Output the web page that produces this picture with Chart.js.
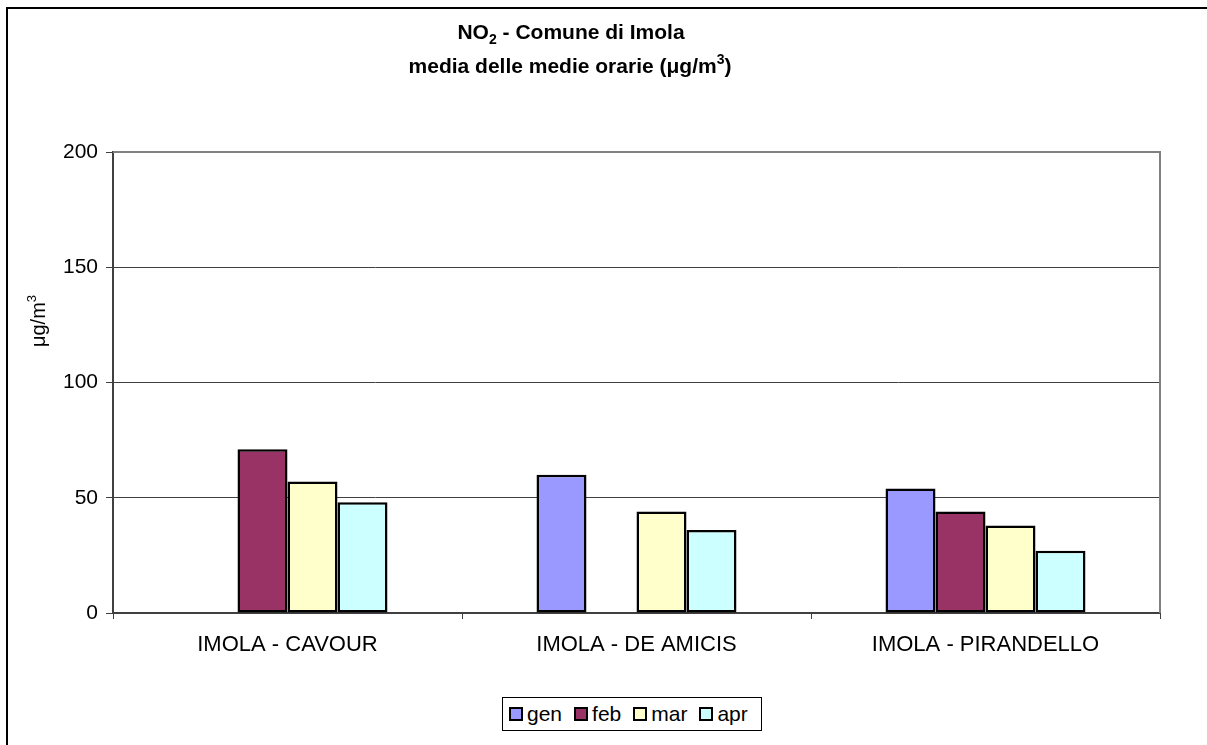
<!DOCTYPE html>
<html>
<head>
<meta charset="utf-8">
<script src="https://cdn.jsdelivr.net/npm/chart.js@4/dist/chart.umd.min.js"></script>
<style>
  body { margin: 0; background: #fff; font-family: "Liberation Sans", Arial, sans-serif; }
  #wrap { position: relative; width: 1207px; height: 745px; overflow: hidden; }
  #frame { position: absolute; left: 6px; top: 7px; width: 1300px; height: 800px; border-left: 2px solid #000; border-top: 2px solid #000; }
  #no2 { position: absolute; left: 0; top: 0; }
  #legend { position: absolute; left: 502px; top: 697px; width: 252px; height: 32px; border: 1px solid #000; background: #fff;
            display: flex; align-items: center; justify-content: flex-start; padding-left: 6px; box-sizing: content-box;
            font-size: 21px; color: #000; }
  #legend span.item { display: flex; align-items: center; margin-right: 12px; }
  #legend span.box { display: inline-block; width: 10px; height: 10px; border: 2px solid #000; margin-right: 4px; }
</style>
</head>
<body>
<div id="wrap">
  <div id="frame"></div>
  <canvas id="no2" width="1207" height="745"></canvas>
  <div id="legend"></div>
</div>
<script>
var stations = ["IMOLA - CAVOUR", "IMOLA - DE AMICIS", "IMOLA - PIRANDELLO"];
var gen = [null, 60, 54];
var feb = [71, null, 44];
var mar = [57, 44, 38];
var apr = [48, 36, 27];
var yTicks = [0, 50, 100, 150, 200];

var FONT = "'Liberation Sans', Arial, sans-serif";

function series(label, values, color) {
    return {
        label: label,
        data: values,
        backgroundColor: color,
        borderColor: "#000",
        borderWidth: 2.5,
        borderSkipped: false,
        barPercentage: 1,
        categoryPercentage: 0.573
    };
}

// title with sub/superscripts, y title, gray plot border
var decorations = {
    id: "decorations",
    afterDraw: function(chart) {
        var ctx = chart.ctx;
        var a = chart.chartArea;
        ctx.save();

        ctx.strokeStyle = "#808080";
        ctx.lineWidth = 2;
        ctx.beginPath();
        ctx.moveTo(a.left, a.top);
        ctx.lineTo(a.right, a.top);
        ctx.lineTo(a.right, a.bottom);
        ctx.stroke();

        ctx.fillStyle = "#000";
        ctx.textBaseline = "alphabetic";
        ctx.textAlign = "left";
        var big = "bold 21px " + FONT, small = "bold 14px " + FONT;
        function runs(parts, cx, y) {
            var w = 0;
            parts.forEach(function(p) { ctx.font = p[1] ? small : big; w += ctx.measureText(p[0]).width; });
            var x = cx - w / 2;
            parts.forEach(function(p) {
                ctx.font = p[1] ? small : big;
                ctx.fillText(p[0], x, y + (p[1] || 0));
                x += ctx.measureText(p[0]).width;
            });
        }
        runs([["NO"], ["2", 5], [" - Comune di Imola"]], 571, 39);
        runs([["media delle medie orarie (\u03bcg/m"], ["3", -9], [")"]], 570, 73);

        ctx.translate(45, 321);
        ctx.rotate(-Math.PI / 2);
        ctx.font = "20px " + FONT;
        var t1 = "\u03bcg/m";
        var w1 = ctx.measureText(t1).width;
        ctx.font = "13px " + FONT;
        var w2 = ctx.measureText("3").width;
        ctx.font = "20px " + FONT;
        ctx.fillText(t1, -(w1 + w2) / 2, 0);
        ctx.font = "13px " + FONT;
        ctx.fillText("3", -(w1 + w2) / 2 + w1, -9);
        ctx.restore();
    }
};

var chart = new Chart(document.getElementById("no2"), {
    type: "bar",
    data: {
        labels: stations,
        datasets: [
            series("gen", gen, "#9999FF"),
            series("feb", feb, "#993366"),
            series("mar", mar, "#FFFFCC"),
            series("apr", apr, "#CCFFFF")
        ]
    },
    options: {
        responsive: false,
        animation: false,
        devicePixelRatio: 1,
        layout: { padding: { left: 0, top: 152, right: 47, bottom: 0 } },
        plugins: { legend: { display: false }, title: { display: false }, tooltip: { enabled: false } },
        scales: {
            x: {
                afterFit: function(s) { s.height = 132; },
                border: { color: "#404040", width: 2 },
                grid: { drawOnChartArea: false, drawTicks: true, tickLength: 6, color: "#404040" },
                ticks: { color: "#000", font: { family: FONT, size: 22 }, padding: 13, maxRotation: 0 }
            },
            y: {
                min: 0, max: 200,
                afterFit: function(s) { s.width = 113; },
                afterBuildTicks: function(s) { s.ticks = yTicks.map(function(v) { return { value: v }; }); },
                border: { color: "#404040", width: 2 },
                grid: { color: "#404040", lineWidth: 1, tickLength: 7 },
                ticks: { color: "#000", font: { family: FONT, size: 21 }, padding: 8 }
            }
        }
    },
    plugins: [decorations]
});

// legend built from the chart's datasets
var legend = document.getElementById("legend");
chart.data.datasets.forEach(function(ds) {
    var item = document.createElement("span");
    item.className = "item";
    var box = document.createElement("span");
    box.className = "box";
    box.style.background = ds.backgroundColor;
    item.appendChild(box);
    item.appendChild(document.createTextNode(ds.label));
    legend.appendChild(item);
});
</script>
</body>
</html>
